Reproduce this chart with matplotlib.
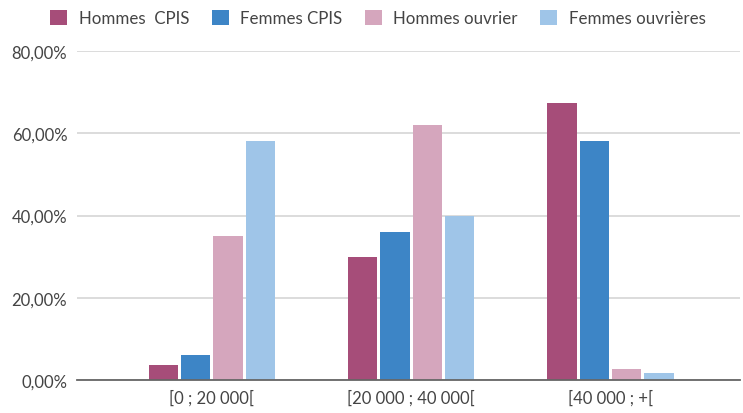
import numpy as np
import matplotlib
matplotlib.use("Agg")
import matplotlib.pyplot as plt
from matplotlib.ticker import FuncFormatter

# Data
categories = ["[0 ; 20 000[", "[20 000 ; 40 000[", "[40 000 ; +["]
series_names = ["Hommes  CPIS", "Femmes CPIS", "Hommes ouvrier", "Femmes ouvrières"]
hommes_cpis = [3.6, 30.0, 67.3]
femmes_cpis = [6.0, 36.0, 58.0]
hommes_ouvrier = [35.0, 62.0, 2.6]
femmes_ouvrieres = [58.0, 40.0, 1.6]
y_ticks = [0, 20, 40, 60, 80]

colors = ["#a64d79", "#3d85c6", "#d5a6bd", "#9fc5e8"]
text_color = "#444444"

plt.rcParams["font.family"] = ["Lato", "DejaVu Sans"]

fig = plt.figure(figsize=(7.43, 4.14), dpi=100)
ax = fig.add_axes([77 / 743, 1 - 381 / 414, (740 - 77) / 743, (381 - 52) / 414])

x = np.arange(len(categories))
step = 0.162
width = 0.147
all_series = [hommes_cpis, femmes_cpis, hommes_ouvrier, femmes_ouvrieres]
for i, (vals, name, col) in enumerate(zip(all_series, series_names, colors)):
    ax.bar(x + (i - 1.5) * step, vals, width, color=col, label=name, zorder=3)

ax.set_xlim(-0.677, 2.65)
ax.set_ylim(0, 80)
ax.set_yticks(y_ticks)
ax.yaxis.set_major_formatter(FuncFormatter(lambda v, p: f"{v:.2f}".replace(".", ",") + "%"))
ax.set_xticks(x)
ax.set_xticklabels(categories)

ax.grid(axis="y", color="#d9d9d9", linewidth=1.3, zorder=0)
for s in ["top", "right", "left"]:
    ax.spines[s].set_visible(False)
ax.spines["bottom"].set_color("#666666")
ax.spines["bottom"].set_linewidth(1.3)
ax.spines["bottom"].set_zorder(4)
ax.tick_params(axis="both", length=0, labelsize=12, colors=text_color)
ax.tick_params(axis="y", pad=7)
ax.tick_params(axis="x", pad=7)

fig.legend(loc="upper center", bbox_to_anchor=(378 / 743, 1.01), ncol=4, frameon=False,
           fontsize=12.2, labelcolor=text_color, handlelength=1.0, handleheight=1.0,
           handletextpad=0.7, columnspacing=1.3)

fig.savefig("out.png", dpi=100)
